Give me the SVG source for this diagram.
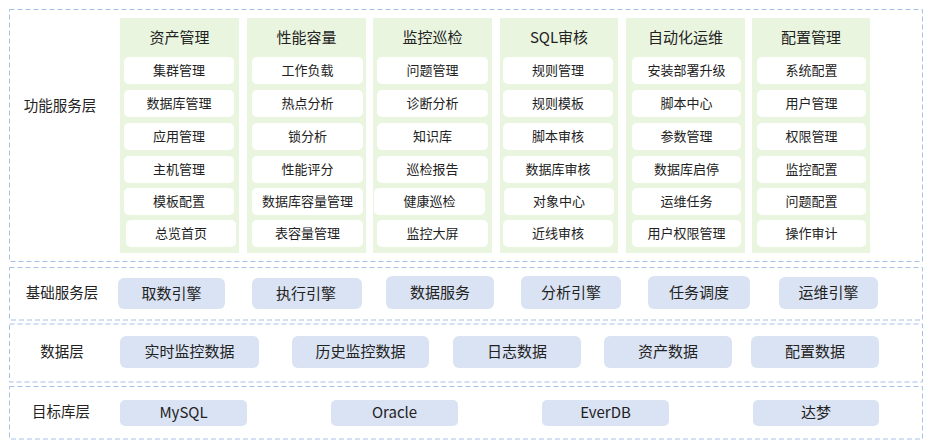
<svg xmlns="http://www.w3.org/2000/svg" width="928" height="447" viewBox="0 0 928 447">
<style>
.layer{fill:#ffffff;stroke:#a8c0e6;stroke-width:1;stroke-dasharray:5 3}
.col{fill:#eaf5e0}
.item{fill:#ffffff}
.blk{fill:#dae3f3}
text{font-family:"Microsoft YaHei","Noto Sans CJK SC","Noto Sans",sans-serif;fill:#222;text-anchor:middle;dominant-baseline:central;transform:translateY(-1.5px)}
.h{font-size:15px}
.t{font-size:13px}
.b{font-size:15px}
.l{font-size:14.5px}
</style>
<rect width="928" height="447" fill="#ffffff"/>
<g id="layer-func">
<rect class="layer" x="9.5" y="9.5" width="913" height="252"/>
<text class="l" x="60" y="106">功能服务层</text>
</g>
<g id="layer-base">
<rect class="layer" x="9.5" y="267.5" width="913" height="52.5"/>
<text class="l" x="62" y="293">基础服务层</text>
</g>
<g id="layer-data">
<rect class="layer" x="9.5" y="324" width="913" height="58"/>
<text class="l" x="62" y="352">数据层</text>
</g>
<g id="layer-target">
<rect class="layer" x="9.5" y="386.5" width="913" height="52.5"/>
<text class="l" x="61" y="412">目标库层</text>
</g>

<g id="col-asset">
<rect class="col" x="120" y="18" width="119" height="235"/>
<text class="h" x="179.5" y="38">资产管理</text>
<rect class="item" x="124" y="57" width="110" height="27" rx="5"/><text class="t" x="179" y="70.5">集群管理</text>
<rect class="item" x="124" y="90" width="110" height="27" rx="5"/><text class="t" x="179" y="103.5">数据库管理</text>
<rect class="item" x="124" y="123" width="110" height="27" rx="5"/><text class="t" x="179" y="136.5">应用管理</text>
<rect class="item" x="124" y="156" width="110" height="27" rx="5"/><text class="t" x="179" y="169.5">主机管理</text>
<rect class="item" x="124" y="188" width="110" height="27" rx="5"/><text class="t" x="179" y="201.5">模板配置</text>
<rect class="item" x="126" y="220" width="110" height="27" rx="5"/><text class="t" x="181" y="233.5">总览首页</text>
</g>
<g id="col-perf">
<rect class="col" x="247" y="18" width="119" height="235"/>
<text class="h" x="306.5" y="38">性能容量</text>
<rect class="item" x="252" y="57" width="111" height="27" rx="5"/><text class="t" x="307.5" y="70.5">工作负载</text>
<rect class="item" x="252" y="90" width="111" height="27" rx="5"/><text class="t" x="307.5" y="103.5">热点分析</text>
<rect class="item" x="252" y="123" width="111" height="27" rx="5"/><text class="t" x="307.5" y="136.5">锁分析</text>
<rect class="item" x="252" y="156" width="111" height="27" rx="5"/><text class="t" x="307.5" y="169.5">性能评分</text>
<rect class="item" x="252" y="188" width="111" height="27" rx="5"/><text class="t" x="307.5" y="201.5">数据库容量管理</text>
<rect class="item" x="252" y="220" width="111" height="27" rx="5"/><text class="t" x="307.5" y="233.5">表容量管理</text>
</g>
<g id="col-monitor">
<rect class="col" x="373" y="18" width="119" height="235"/>
<text class="h" x="432.5" y="38">监控巡检</text>
<rect class="item" x="377" y="57" width="111" height="27" rx="5"/><text class="t" x="432.5" y="70.5">问题管理</text>
<rect class="item" x="377" y="90" width="111" height="27" rx="5"/><text class="t" x="432.5" y="103.5">诊断分析</text>
<rect class="item" x="377" y="123" width="111" height="27" rx="5"/><text class="t" x="432.5" y="136.5">知识库</text>
<rect class="item" x="377" y="156" width="111" height="27" rx="5"/><text class="t" x="432.5" y="169.5">巡检报告</text>
<rect class="item" x="374" y="188" width="111" height="27" rx="5"/><text class="t" x="429.5" y="201.5">健康巡检</text>
<rect class="item" x="377" y="220" width="111" height="27" rx="5"/><text class="t" x="432.5" y="233.5">监控大屏</text>
</g>
<g id="col-sql">
<rect class="col" x="500" y="18" width="118" height="235"/>
<text class="h" x="559" y="38">SQL审核</text>
<rect class="item" x="503" y="57" width="110" height="27" rx="5"/><text class="t" x="558" y="70.5">规则管理</text>
<rect class="item" x="503" y="90" width="110" height="27" rx="5"/><text class="t" x="558" y="103.5">规则模板</text>
<rect class="item" x="503" y="123" width="110" height="27" rx="5"/><text class="t" x="558" y="136.5">脚本审核</text>
<rect class="item" x="503" y="156" width="110" height="27" rx="5"/><text class="t" x="558" y="169.5">数据库审核</text>
<rect class="item" x="504" y="188" width="110" height="27" rx="5"/><text class="t" x="559" y="201.5">对象中心</text>
<rect class="item" x="503" y="220" width="110" height="27" rx="5"/><text class="t" x="558" y="233.5">近线审核</text>
</g>
<g id="col-auto">
<rect class="col" x="626" y="18" width="119" height="235"/>
<text class="h" x="685.5" y="38">自动化运维</text>
<rect class="item" x="632" y="57" width="109" height="27" rx="5"/><text class="t" x="686.5" y="70.5">安装部署升级</text>
<rect class="item" x="632" y="90" width="109" height="27" rx="5"/><text class="t" x="686.5" y="103.5">脚本中心</text>
<rect class="item" x="632" y="123" width="109" height="27" rx="5"/><text class="t" x="686.5" y="136.5">参数管理</text>
<rect class="item" x="632" y="156" width="109" height="27" rx="5"/><text class="t" x="686.5" y="169.5">数据库启停</text>
<rect class="item" x="632" y="188" width="109" height="27" rx="5"/><text class="t" x="686.5" y="201.5">运维任务</text>
<rect class="item" x="632" y="220" width="109" height="27" rx="5"/><text class="t" x="686.5" y="233.5">用户权限管理</text>
</g>
<g id="col-config">
<rect class="col" x="752" y="18" width="118" height="235"/>
<text class="h" x="811" y="38">配置管理</text>
<rect class="item" x="757" y="57" width="109" height="27" rx="5"/><text class="t" x="811.5" y="70.5">系统配置</text>
<rect class="item" x="757" y="90" width="109" height="27" rx="5"/><text class="t" x="811.5" y="103.5">用户管理</text>
<rect class="item" x="757" y="123" width="109" height="27" rx="5"/><text class="t" x="811.5" y="136.5">权限管理</text>
<rect class="item" x="757" y="156" width="109" height="27" rx="5"/><text class="t" x="811.5" y="169.5">监控配置</text>
<rect class="item" x="757" y="188" width="109" height="27" rx="5"/><text class="t" x="811.5" y="201.5">问题配置</text>
<rect class="item" x="757" y="220" width="109" height="27" rx="5"/><text class="t" x="811.5" y="233.5">操作审计</text>
</g>

<g id="base-services">
<rect class="blk" x="118" y="278" width="107" height="31" rx="6"/><text class="b" x="171.5" y="293.5">取数引擎</text>
<rect class="blk" x="252" y="278" width="110" height="31" rx="6"/><text class="b" x="306" y="293.5">执行引擎</text>
<rect class="blk" x="386" y="276" width="108" height="33" rx="6"/><text class="b" x="440" y="292.5">数据服务</text>
<rect class="blk" x="521" y="276" width="100" height="33" rx="6"/><text class="b" x="571" y="292.5">分析引擎</text>
<rect class="blk" x="648" y="276" width="102" height="33" rx="6"/><text class="b" x="699" y="292.5">任务调度</text>
<rect class="blk" x="779" y="277" width="99" height="32" rx="6"/><text class="b" x="828.5" y="293">运维引擎</text>
</g>
<g id="data-items">
<rect class="blk" x="120" y="336" width="139" height="32" rx="6"/><text class="b" x="189.5" y="352">实时监控数据</text>
<rect class="blk" x="292" y="336" width="137" height="32" rx="6"/><text class="b" x="360.5" y="352">历史监控数据</text>
<rect class="blk" x="453" y="336" width="128" height="32" rx="6"/><text class="b" x="517" y="352">日志数据</text>
<rect class="blk" x="604" y="336" width="128" height="32" rx="6"/><text class="b" x="668" y="352">资产数据</text>
<rect class="blk" x="751" y="336" width="128" height="32" rx="6"/><text class="b" x="815" y="352">配置数据</text>
</g>
<g id="target-dbs">
<rect class="blk" x="120" y="400" width="127" height="26" rx="5"/><text class="b" x="183.5" y="413">MySQL</text>
<rect class="blk" x="331" y="400" width="127" height="26" rx="5"/><text class="b" x="394.5" y="413">Oracle</text>
<rect class="blk" x="542" y="400" width="127" height="26" rx="5"/><text class="b" x="605.5" y="413">EverDB</text>
<rect class="blk" x="753" y="400" width="126" height="26" rx="5"/><text class="b" x="816" y="413">达梦</text>
</g>
<g id="connectors"></g>
</svg>
